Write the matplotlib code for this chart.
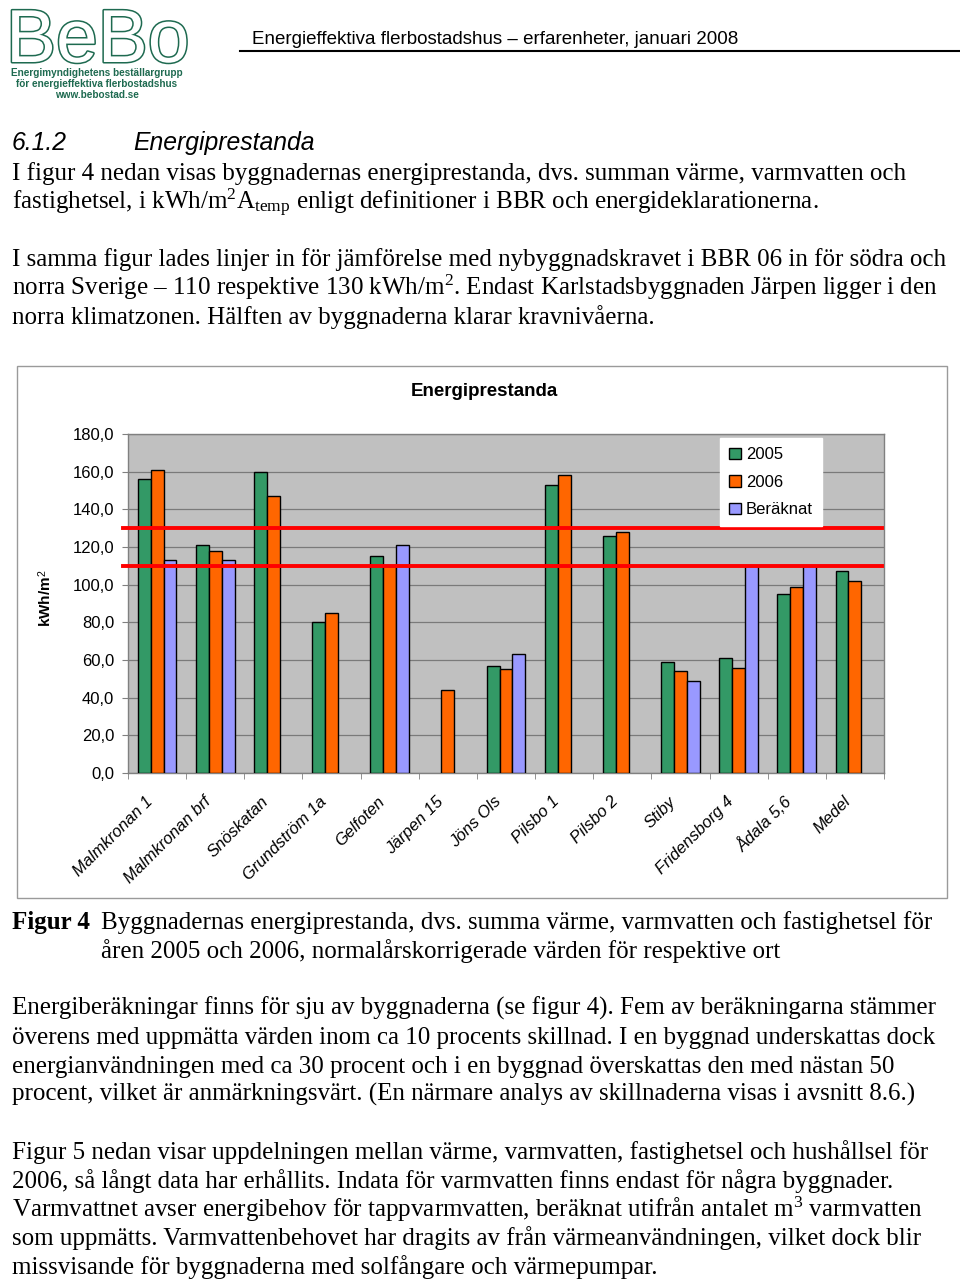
import matplotlib
matplotlib.use('Agg')
import matplotlib.pyplot as plt
import numpy as np
from matplotlib.patches import Rectangle, Patch
from matplotlib.lines import Line2D
from matplotlib.transforms import ScaledTranslation
import matplotlib.patheffects as pe

# ---------------- data ----------------
categories = ["Malmkronan 1", "Malmkronan brf", "Snöskatan", "Grundström 1a", "Gelfoten",
              "Järpen 15", "Jöns Ols", "Pilsbo 1", "Pilsbo 2", "Stiby", "Fridensborg 4",
              "Ådala 5,6", "Medel"]
nan = np.nan
values_2005 = [156, 121, 160, 80, 115, nan, 57, 153, 126, 59, 61, 95, 107]
values_2006 = [161, 118, 147, 85, 110, 44, 55, 158, 128, 54, 56, 99, 102]
values_beraknat = [113, 113, nan, nan, 121, nan, 63, nan, nan, 49, 110, 110, nan]
series_names = ["2005", "2006", "Beräknat"]
requirement_levels = [110, 130]
y_ticks = [0, 20, 40, 60, 80, 100, 120, 140, 160, 180]
y_tick_labels = ["0,0", "20,0", "40,0", "60,0", "80,0", "100,0", "120,0", "140,0", "160,0", "180,0"]

header_text = "Energieffektiva flerbostadshus – erfarenheter, januari 2008"
para1 = ["I figur 4 nedan visas byggnadernas energiprestanda, dvs. summan värme, varmvatten och",
         "fastighetsel, i kWh/m$^2$A$_{\\mathrm{temp}}$ enligt definitioner i BBR och energideklarationerna."]
para2 = ["I samma figur lades linjer in för jämförelse med nybyggnadskravet i BBR 06 in för södra och",
         "norra Sverige – 110 respektive 130 kWh/m$^2$. Endast Karlstadsbyggnaden Järpen ligger i den",
         "norra klimatzonen. Hälften av byggnaderna klarar kravnivåerna."]
caption = ["Byggnadernas energiprestanda, dvs. summa värme, varmvatten och fastighetsel för",
           "åren 2005 och 2006, normalårskorrigerade värden för respektive ort"]
para3 = ["Energiberäkningar finns för sju av byggnaderna (se figur 4). Fem av beräkningarna stämmer",
         "överens med uppmätta värden inom ca 10 procents skillnad. I en byggnad underskattas dock",
         "energianvändningen med ca 30 procent och i en byggnad överskattas den med nästan 50",
         "procent, vilket är anmärkningsvärt. (En närmare analys av skillnaderna visas i avsnitt 8.6.)"]
para4 = ["Figur 5 nedan visar uppdelningen mellan värme, varmvatten, fastighetsel och hushållsel för",
         "2006, så långt data har erhållits. Indata för varmvatten finns endast för några byggnader.",
         "Varmvattnet avser energibehov för tappvarmvatten, beräknat utifrån antalet m$^3$ varmvatten",
         "som uppmätts. Varmvattenbehovet har dragits av från värmeanvändningen, vilket dock blir",
         "missvisande för byggnaderna med solfångare och värmepumpar."]

# ---------------- style ----------------
plt.rcParams['font.family'] = ['Liberation Sans', 'DejaVu Sans']
plt.rcParams['mathtext.fontset'] = 'custom'
plt.rcParams['mathtext.rm'] = 'Liberation Serif'
plt.rcParams['mathtext.it'] = 'Liberation Serif:italic'
plt.rcParams['mathtext.bf'] = 'Liberation Serif:bold'
plt.rcParams['mathtext.sf'] = 'Liberation Sans'

W, H = 960, 1280
fx = lambda px: px / W
fy = lambda px: 1 - px / H

green = '#339966'
orange = '#FF6600'
blue = '#9999FF'
logo_green = '#1e6a50'

fig = plt.figure(figsize=(9.6, 12.8), dpi=100)

# ---------------- header / logo ----------------
fig.text(fx(6), fy(62), "BeBo", fontsize=54, family='Liberation Sans', color='white',
         va='baseline', ha='left',
         path_effects=[pe.Stroke(linewidth=2.2, foreground=logo_green), pe.Normal()])
for txt, yy in [("Energimyndighetens beställargrupp", 73),
                ("för energieffektiva flerbostadshus", 84),
                ("www.bebostad.se", 95)]:
    fig.text(fx(97), fy(yy), txt, fontsize=7.2, fontweight='bold', color=logo_green,
             ha='center', va='center')

fig.text(fx(252), fy(39), header_text, fontsize=13.5, ha='left', va='center')
fig.add_artist(Line2D([fx(240), fx(960)], [fy(51), fy(51)], color='black', lw=1.5,
                      transform=fig.transFigure))

# ---------------- section heading + text ----------------
fig.text(fx(12), fy(143), "6.1.2", fontsize=17.8, style='italic', ha='left', va='center')
fig.text(fx(133), fy(143), "Energiprestanda", fontsize=17.8, style='italic', ha='left', va='center')

serif = 'Liberation Serif'
body_size = 18

def body_lines(lines, baselines, x=12, **kw):
    for line, b in zip(lines, baselines):
        fig.text(fx(x), fy(b), line, family=serif, fontsize=body_size,
                 ha='left', va='baseline', **kw)

body_lines(para1, [180, 209])
body_lines(para2, [266, 295, 324])
fig.text(fx(12), fy(929), "Figur 4", family=serif, fontsize=body_size, fontweight='bold',
         ha='left', va='baseline')
body_lines(caption, [929, 958], x=101)
body_lines(para3, [1015, 1044, 1073, 1101])
body_lines(para4, [1159, 1188, 1217, 1245, 1274])

# ---------------- chart frame ----------------
fig.add_artist(Rectangle((fx(17), fy(898)), fx(947) - fx(17), fy(366) - fy(898),
                         transform=fig.transFigure, facecolor='white', edgecolor='#9a9a9a',
                         lw=1, zorder=0))
fig.text(fx(484), fy(392), "Energiprestanda", fontsize=13.5, fontweight='bold',
         ha='center', va='center')
fig.text(fx(45), fy(598), "kWh/m$^\\mathsf{2}$", fontsize=11, fontweight='bold',
         rotation=90, ha='center', va='center')

ax = fig.add_axes([fx(128), fy(773), fx(884) - fx(128), fy(434) - fy(773)])
ax.set_facecolor('#C0C0C0')

x = np.arange(len(categories))
w = 1 / 4.5
for off, vals, col, name in [(-w, values_2005, green, series_names[0]),
                             (0, values_2006, orange, series_names[1]),
                             (w, values_beraknat, blue, series_names[2])]:
    ax.bar(x + off, vals, w, color=col, edgecolor='black', lw=1.0, zorder=3, label=name)

for lvl in requirement_levels:
    ax.axhline(lvl, xmin=-0.006, xmax=0.997, color='#FF0000', lw=2.8, zorder=4, clip_on=False)

ax.set_xlim(-0.5, len(categories) - 0.5)
ax.set_ylim(0, 180)
ax.set_yticks(y_ticks)
ax.set_yticklabels(y_tick_labels)
ax.yaxis.grid(True, color='#7a7a7a', lw=0.9, zorder=0)
ax.set_axisbelow(True)
for s in ax.spines.values():
    s.set_color('#808080')
    s.set_linewidth(1)

ax.tick_params(axis='y', length=4, color='#808080', labelsize=12, pad=6)
ax.set_xticks([])
ax.set_xticks(np.arange(-0.5, len(categories), 1), minor=True)
ax.tick_params(axis='x', which='minor', length=4, color='#808080')

label_tf = ax.get_xaxis_transform() + ScaledTranslation(-7 / 100, -26 / 100, fig.dpi_scale_trans)
for xi, cat in zip(x, categories):
    ax.text(xi, 0, cat, transform=label_tf, rotation=45, ha='right', va='center',
            rotation_mode='anchor', fontstyle='italic', fontsize=12, clip_on=False)

handles = [Patch(facecolor=c, edgecolor='black', lw=1) for c in (green, orange, blue)]
ax.legend(handles, series_names, loc='upper left',
          bbox_to_anchor=(fx(720), fy(438)), bbox_transform=fig.transFigure,
          frameon=True, fancybox=False, edgecolor='white', facecolor='white', framealpha=1,
          fontsize=12, handlelength=0.7, handleheight=0.7, handletextpad=0.3,
          labelspacing=0.75, borderpad=0.55, borderaxespad=0)

fig.savefig('out.png', dpi=100, facecolor='white')
